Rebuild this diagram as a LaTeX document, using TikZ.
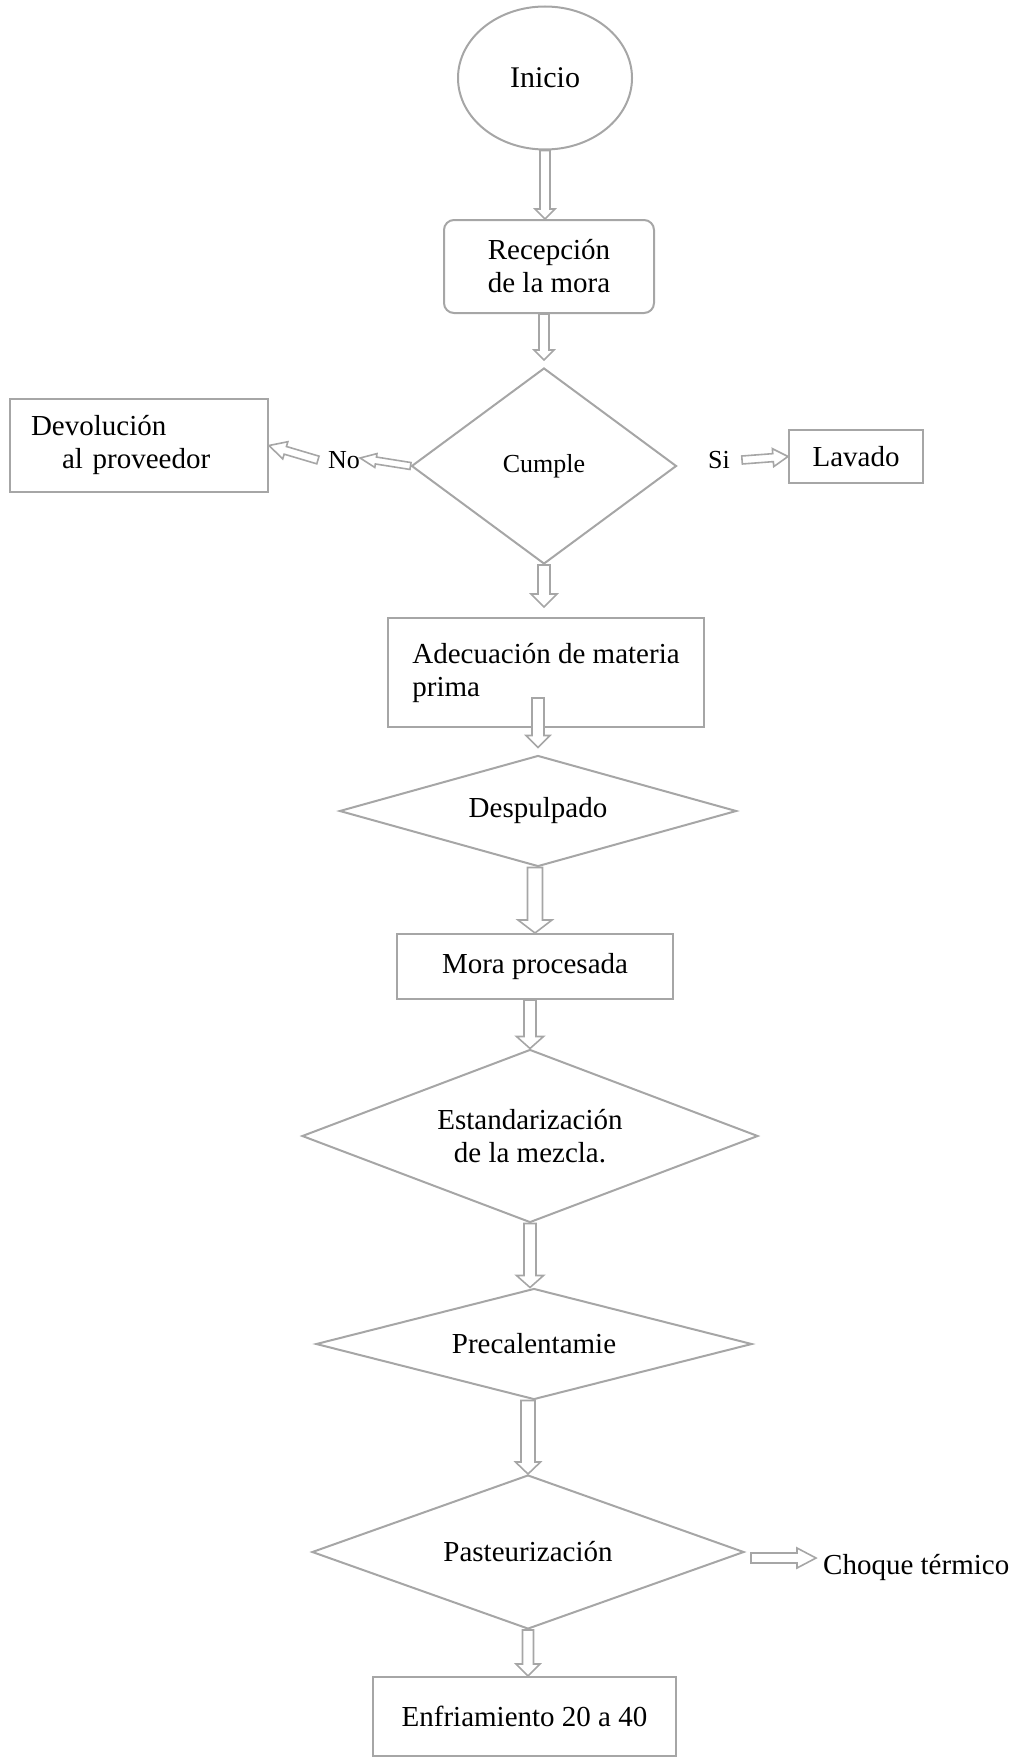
\documentclass[tikz,border=0pt]{standalone}
\usepackage{fontspec}
\setmainfont{Liberation Serif}
\usetikzlibrary{shapes.geometric,calc}
\definecolor{linegray}{RGB}{166,166,166}

\tikzset{
  box/.style={draw=linegray, line width=2pt, rectangle, inner sep=0pt, align=center},
  rombo/.style={draw=linegray, line width=2pt, diamond, inner sep=0pt, align=center},
  flow/.style n args={3}{draw=linegray, fill=white, line width=1.6pt,
    to path={
      ($(\tikztostart)!#1!90:(\tikztotarget)$)
      -- ($(\tikztotarget)!#3!(\tikztostart)!#1!-90:(\tikztostart)$)
      -- ($(\tikztotarget)!#3!(\tikztostart)!#2!-90:(\tikztostart)$)
      -- (\tikztotarget)
      -- ($(\tikztotarget)!#3!(\tikztostart)!#2!90:(\tikztostart)$)
      -- ($(\tikztotarget)!#3!(\tikztostart)!#1!90:(\tikztostart)$)
      -- ($(\tikztostart)!#1!-90:(\tikztotarget)$)
      -- cycle}}
}

\begin{document}
\begin{tikzpicture}[x=1pt, y=-1pt, font=\fontsize{29}{33}\selectfont]
    \useasboundingbox (0,0) rectangle (1013,1758);
    %Inicio y recepcion
    \node[draw=linegray, line width=2pt, ellipse, minimum width=174pt, minimum height=143pt, inner sep=0pt, font=\fontsize{30}{34}\selectfont] (inicio) at (545,78) {Inicio};
    \node[box, rounded corners=10pt, minimum width=210pt, minimum height=93pt] (recepcion) at (549,266.5) {Recepción\\de la mora};

    %Decision
    \node[rombo, shape aspect=1.35, minimum width=265pt, minimum height=196pt, font=\fontsize{26}{30}\selectfont] (cumple) at (544,466) {Cumple};
    \node[inner sep=0pt, font=\fontsize{26}{30}\selectfont] (no) at (344,460) {No};
    \node[inner sep=0pt, font=\fontsize{26}{30}\selectfont] (si) at (719,460) {Si};
    \node[box, minimum width=258pt, minimum height=93pt, text width=216pt, align=left] (devolucion) at (139,445.5) {Devolución\\\hspace*{31pt}al proveedor};
    \node[box, minimum width=134pt, minimum height=53pt] (lavado) at (856,456.5) {Lavado};

    %Proceso
    \node[box, minimum width=316pt, minimum height=109pt, align=left] (adecuacion) at (546,672.5) {Adecuación de materia\\prima};
    \node[rombo, shape aspect=3.58, minimum width=397pt, minimum height=111pt] (despulpado) at (538,811) {Despulpado};
    \node[box, minimum width=276pt, minimum height=65pt] (mora) at (535,966.5) {Mora procesada};
    \node[rombo, shape aspect=2.64, minimum width=456pt, minimum height=173pt] (estandar) at (530,1136) {Estandarización\\de la mezcla.};
    \node[rombo, shape aspect=3.93, minimum width=436pt, minimum height=111pt] (precal) at (534,1344) {Precalentamie};
    \node[rombo, shape aspect=2.8, minimum width=432pt, minimum height=154pt] (pasteur) at (528,1552) {Pasteurización};
    \node[inner sep=0pt, anchor=west] (choque) at (823,1567) {Choque térmico};
    \node[box, minimum width=303pt, minimum height=79pt] (enfriamiento) at (524.5,1716.5) {Enfriamiento 20 a 40};

    %Flechas
    \draw[flow={5pt}{10pt}{10pt}] (inicio.south) to (inicio.south |- recepcion.north);
    \draw[flow={5pt}{10pt}{10pt}] (cumple.north |- recepcion.south) to ([yshift=7pt]cumple.north);
    \draw[flow={3.5pt}{7pt}{16pt}] (cumple.west) to ([yshift=2pt]no.east);
    \draw[flow={4pt}{9pt}{17pt}] ([xshift=-10pt]no.west) to (devolucion.east);
    \draw[flow={4pt}{9pt}{15pt}] ([xshift=12pt]si.east) to (lavado.west);
    \draw[flow={6pt}{13pt}{13pt}] (cumple.south) to ([yshift=10pt]cumple.south |- adecuacion.north);
    \draw[flow={6pt}{12pt}{12pt}] ([xshift=-8pt,yshift=30pt]adecuacion.south) to ([yshift=7pt]despulpado.north);
    \draw[flow={7.5pt}{17pt}{13pt}] (mora.north |- despulpado.south) to (mora.north);
    \draw[flow={6pt}{13.5pt}{12pt}] (estandar.north |- mora.south) to (estandar.north);
    \draw[flow={6pt}{13.5pt}{12pt}] (estandar.south) to (estandar.south |- precal.north);
    \draw[flow={7pt}{12.5pt}{12pt}] (pasteur.north |- precal.south) to (pasteur.north);
    \draw[flow={5.5pt}{12pt}{12pt}] (pasteur.south) to (pasteur.south |- enfriamiento.north);
    \draw[flow={5pt}{10pt}{19pt}] ([xshift=6pt,yshift=-6pt]pasteur.east) to ([xshift=-7pt,yshift=9pt]choque.west);
\end{tikzpicture}
\end{document}
